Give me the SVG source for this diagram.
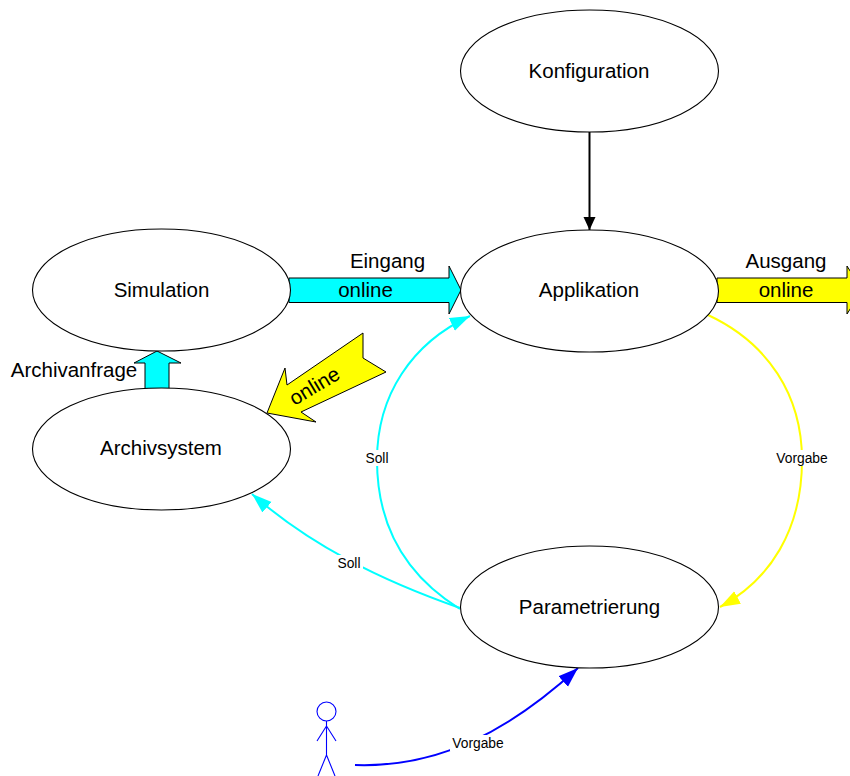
<svg xmlns="http://www.w3.org/2000/svg" width="850" height="776" viewBox="0 0 850 776">
<style>
text{font-family:"Liberation Sans",Arial,sans-serif;fill:#000;text-anchor:middle}
.n{fill:#fff;stroke:#000;stroke-width:1.1}
.t{font-size:20.500px}
.s{font-size:13.800px}
.fat{stroke:#000;stroke-width:1}
.cy{fill:#0ff}
.ye{fill:#ff0}
.c{fill:none;stroke-width:2}
.gap{fill:#fff}
</style>
<defs>
<marker id="hk" markerUnits="userSpaceOnUse" markerWidth="14" markerHeight="20" refX="13" refY="6" orient="auto"><path d="M0 0L13 6L0 12Z" fill="#000"/></marker>
<marker id="hc" markerUnits="userSpaceOnUse" markerWidth="22" markerHeight="16" refX="20" refY="7" orient="auto"><path d="M0 0L20 7L0 14Z" fill="#0ff"/></marker>
<marker id="hy" markerUnits="userSpaceOnUse" markerWidth="22" markerHeight="16" refX="20" refY="7" orient="auto"><path d="M0 0L20 7L0 14Z" fill="#ff0"/></marker>
<marker id="hb" markerUnits="userSpaceOnUse" markerWidth="22" markerHeight="16" refX="20" refY="7" orient="auto"><path d="M0 0L20 7L0 14Z" fill="#00f"/></marker>
</defs>
<g id="connectors">
<path d="M589.500 132V230" fill="none" stroke="#000" stroke-width="2" marker-end="url(#hk)"/>
<path class="fat cy" d="M289 278H449V266L461 290L449 314V302.500H289Z"/>
<path class="fat cy" d="M145 389V363H134L157 351L181 363H169V389Z"/>
<path class="fat ye" d="M267 413L316 422L301 412L386 372L363 358V333L287 385L285 368Z"/>
<path class="fat ye" d="M717 278H847V266L862 290L847 314V302.500H717Z"/>
<path class="c" stroke="#0ff" d="M460 609C405 575 377 525 377 460C377 395 412 343 470 316" marker-end="url(#hc)"/>
<path class="c" stroke="#ff0" d="M708 315C768 343 802 395 802 460C802 530 770 580 720 607" marker-end="url(#hy)"/>
<path class="c" stroke="#0ff" d="M460 608C380 580 310 545 252 494" marker-end="url(#hc)"/>
<path class="c" stroke="#00f" d="M355 765C440 768 510 730 578 668" marker-end="url(#hb)"/>
</g>
<g id="konfiguration"><ellipse class="n" cx="589.500" cy="71" rx="129" ry="61"/><text class="t" x="589" y="78">Konfiguration</text></g>
<g id="applikation"><ellipse class="n" cx="589.500" cy="291" rx="129" ry="61"/><text class="t" x="589" y="297">Applikation</text></g>
<g id="simulation"><ellipse class="n" cx="161.500" cy="290" rx="129" ry="61"/><text class="t" x="161.500" y="297">Simulation</text></g>
<g id="archivsystem"><ellipse class="n" cx="161.500" cy="449" rx="129" ry="61"/><text class="t" x="161" y="455">Archivsystem</text></g>
<g id="parametrierung"><ellipse class="n" cx="589.500" cy="607" rx="129" ry="61"/><text class="t" x="589.500" y="614">Parametrierung</text></g>
<g id="actor" fill="none" stroke="#00f" stroke-width="1.100"><circle cx="326.500" cy="711.500" r="9.500"/><path d="M326.500 721V755M326.500 726L317 741M326.500 726L336 741M326.500 755L318 776M326.500 755L335 776"/></g>
<g id="labels">
<text class="t" x="387.500" y="268">Eingang</text>
<text class="t" x="365.500" y="297">online</text>
<text class="t" x="786" y="268">Ausgang</text>
<text class="t" x="786" y="297">online</text>
<text class="t" x="74" y="377">Archivanfrage</text>
<text class="t" transform="translate(318 392) rotate(-31)">online</text>
<rect class="gap" x="363" y="450" width="28" height="16"/><text class="s" x="377" y="463">Soll</text>
<rect class="gap" x="773" y="450" width="58" height="16"/><text class="s" x="802" y="463">Vorgabe</text>
<rect class="gap" x="335" y="555" width="28" height="16"/><text class="s" x="349" y="568">Soll</text>
<rect class="gap" x="450" y="735" width="57" height="16"/><text class="s" x="478" y="748">Vorgabe</text>
</g>
</svg>
